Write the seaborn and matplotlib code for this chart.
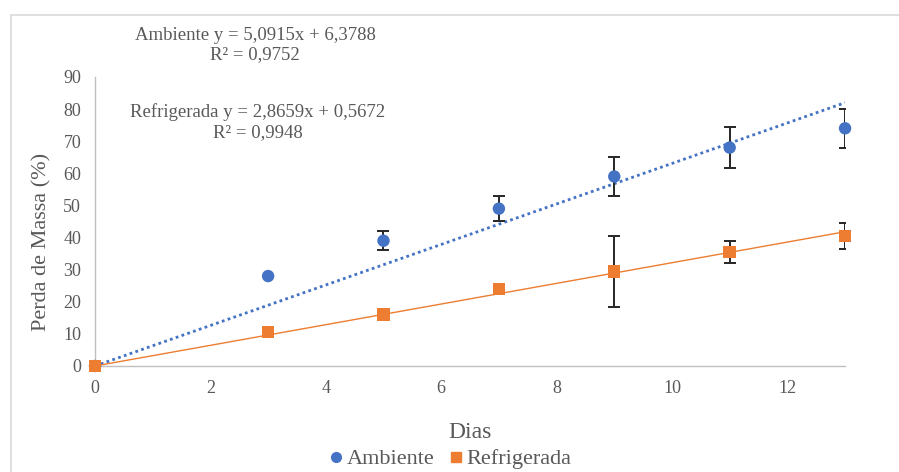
import numpy as np
import pandas as pd
import matplotlib
matplotlib.use("Agg")
import matplotlib.pyplot as plt
import seaborn as sns
from matplotlib.patches import Rectangle
from matplotlib.lines import Line2D

sns.set_theme(style="white")
plt.rcParams['font.family'] = ['Liberation Serif', 'DejaVu Serif']

dias = [0, 3, 5, 7, 9, 11, 13]
ambiente = [0, 28, 39, 49, 59, 68, 74]
ambiente_err = [0, 0, 3, 3.8, 6, 6.3, 6]
refrigerada = [0, 10.5, 16, 24, 29.4, 35.5, 40.4]
refrigerada_err = [0, 0, 0, 0, 11, 3.3, 4]
x_ticks = [0, 2, 4, 6, 8, 10, 12]
y_ticks = [0, 10, 20, 30, 40, 50, 60, 70, 80, 90]
eq_amb = "Ambiente y = 5,0915x + 6,3788\nR² = 0,9752"
eq_ref = "Refrigerada y = 2,8659x + 0,5672\nR² = 0,9948"

blue = "#4472C4"
orange = "#ED7D31"
gray = "#595959"

df = pd.DataFrame({
    "Dias": dias * 2,
    "Perda": ambiente + refrigerada,
    "err": ambiente_err + refrigerada_err,
    "Serie": ["Ambiente"] * len(dias) + ["Refrigerada"] * len(dias),
})

fig = plt.figure(figsize=(8.99, 4.72), dpi=100)
ax = fig.add_axes([0.1057, 0.2246, 0.8343, 0.6124])

# frame
fig.patches.append(Rectangle((11 / 899, -0.01), 1.0, 1.01 - 15 / 472, transform=fig.transFigure,
                             fill=False, edgecolor="#D9D9D9", linewidth=1.2))

# trendlines (least squares through origin)
xs = np.array(dias, dtype=float)
for vals, col, ls, lw in [(ambiente, blue, (0, (1, 1.2)), 2.0), (refrigerada, orange, "-", 1.0)]:
    v = np.array(vals, dtype=float)
    slope = (xs * v).sum() / (xs * xs).sum()
    xx = np.array([0, 13.0])
    ax.plot(xx, slope * xx, color=col, linestyle=ls, linewidth=lw, zorder=2)

# error bars
for name in ["Ambiente", "Refrigerada"]:
    sub = df[(df.Serie == name) & (df["err"] > 0)]
    ax.errorbar(sub["Dias"], sub["Perda"], yerr=sub["err"], fmt="none",
                ecolor="#262626", elinewidth=1.4, capsize=4, capthick=1.4, zorder=3)

sns.scatterplot(data=df, x="Dias", y="Perda", hue="Serie", style="Serie",
                markers={"Ambiente": "o", "Refrigerada": "s"},
                palette={"Ambiente": blue, "Refrigerada": orange},
                s=80, edgecolor="none", ax=ax, zorder=4, clip_on=False, legend=False)

ax.set_xlim(0, 13)
ax.set_ylim(0, 90)
ax.set_xticks(x_ticks)
ax.set_yticks(y_ticks)
ax.tick_params(axis="both", labelsize=13, colors=gray, length=0, pad=10)
for s in ["top", "right"]:
    ax.spines[s].set_visible(False)
for s in ["left", "bottom"]:
    ax.spines[s].set_color("#BFBFBF")
    ax.spines[s].set_linewidth(1.0)
ax.set_xlabel("Dias", fontsize=17, color=gray, labelpad=18)
ax.set_ylabel("Perda de Massa (%)", fontsize=16, color=gray)
ax.yaxis.set_label_coords(-0.058, 0.43)

fig.text(255 / 899, 1 - 45 / 472, eq_amb, ha="center", va="center", fontsize=13.5,
         color=gray, linespacing=1.2)
fig.text(258 / 899, 1 - 122 / 472, eq_ref, ha="center", va="center", fontsize=13.5,
         color=gray, linespacing=1.2)

handles = [Line2D([], [], marker="o", color=blue, linestyle="none", markersize=7),
           Line2D([], [], marker="s", color=orange, linestyle="none", markersize=7)]
leg = fig.legend(handles, ["Ambiente", "Refrigerada"], loc="center",
                 bbox_to_anchor=(0.5, 1 - 459 / 472), ncol=2, frameon=False,
                 fontsize=16, labelcolor=gray, handletextpad=0.05, columnspacing=0.6,
                 handlelength=0.8)
for t in leg.get_texts():
    t.set_fontfamily(["Liberation Serif"])

fig.savefig("out.png", dpi=100, facecolor="white")
